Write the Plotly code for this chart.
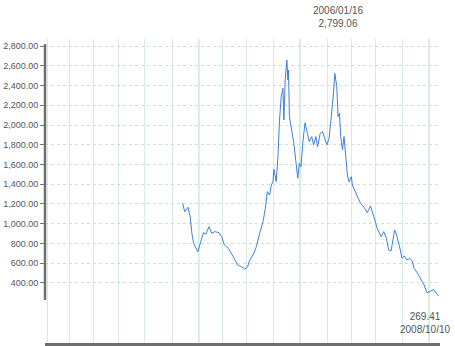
import plotly.graph_objects as go

# position along the time axis (arbitrary units) and index values
t = [138.7, 140.7, 144, 146.3, 148, 149.7, 154, 156.3, 159.7, 162, 165.3, 168, 171.3, 175.3,
     178, 180.7, 184.7, 189.7, 194, 198, 201.3, 204, 206.3, 209.7, 213, 216.3, 219.7, 222,
     224, 226.3, 228, 229.7, 230.7, 233, 234.7, 236.3, 238, 239.7, 240.7, 242, 243.7, 244.7,
     245.3, 246.3, 248.7, 250.7, 253, 254.7, 256.3, 258, 259.7, 262, 264, 266.3, 268.7, 270.7,
     273, 274.7, 277.3, 279.7, 281.3, 284, 286.3, 288.7, 290.7, 292, 294, 295.3, 296.7, 298,
     299.7, 301.3, 303, 304.7, 306.3, 308.7, 309.7, 312, 315, 318, 321.3, 324.7, 328, 331.3,
     334.7, 338.7, 341.3, 344, 346.3, 348.7, 350.7, 352.3, 354, 356.3, 358, 359.7, 362, 364.7,
     367.3, 369.7, 372, 375.3, 378.7, 382, 384.7, 388, 391.3, 394, 396.3]
values = [1207, 1122, 1167, 1071, 903, 802, 717, 785, 909, 896, 970, 903, 920, 909,
          869, 785, 751, 666, 582, 565, 539, 559, 633, 684, 768, 903, 1021, 1156,
          1325, 1291, 1392, 1426, 1551, 1426, 1679, 2051, 2287, 2372, 2051, 2456, 2658, 2456,
          2557, 2085, 1949, 1815, 1612, 1460, 1612, 1578, 1815, 2023, 1932, 1831, 1882, 1798,
          1882, 1780, 1916, 1932, 1882, 1798, 1865, 2085, 2321, 2524, 2388, 2085, 2119, 1882,
          1747, 1882, 1646, 1494, 1426, 1476, 1392, 1331, 1270, 1207, 1167, 1112, 1180, 1071,
          954, 869, 920, 853, 734, 724, 853, 937, 896, 818, 734, 650, 673, 633,
          650, 626, 549, 498, 430, 380, 302, 312, 336, 302, 270]

y_ticks = [400, 600, 800, 1000, 1200, 1400, 1600, 1800, 2000, 2200, 2400, 2600, 2800]
x_grid = [3, 25, 49, 74, 100, 128, 155, 179, 203, 230, 257, 285, 309, 333, 360, 387]
x_grid_strong = [155, 257, 387]

max_date, max_label = "2006/01/16", "2,799.06"
last_date, last_label = "2008/10/10", "269.41"

fig = go.Figure()
fig.add_trace(go.Scatter(x=t, y=values, mode="lines",
                         line=dict(color="#3f7fd9", width=1), hoverinfo="skip"))

shapes = []
for g in x_grid_strong:
    shapes.append(dict(type="line", xref="x", yref="paper", x0=g, x1=g, y0=0, y1=1,
                       line=dict(color="#b4dfc2", width=1.2), layer="below"))
shapes.append(dict(type="line", xref="paper", yref="y", x0=0, x1=0, y0=228, y1=2820,
                   line=dict(color="#6e6e6e", width=2.5)))

fnt = dict(family="Liberation Sans, Arial, sans-serif", size=10, color="#555555")
annotations = [
    dict(text=max_date + "<br>" + max_label, xref="paper", yref="paper", x=0.741, y=1.074,
         showarrow=False, xanchor="center", yanchor="middle", font=fnt, borderpad=0),
    dict(text=last_label + "<br>" + last_date, xref="paper", yref="paper", x=0.962, y=0.066,
         showarrow=False, xanchor="center", yanchor="middle", font=fnt, borderpad=0),
]

fig.update_layout(
    width=455, height=346,
    margin=dict(l=42, r=15, t=39, b=3),
    paper_bgcolor="white", plot_bgcolor="white",
    showlegend=False,
    shapes=shapes,
    annotations=annotations,
    font=fnt,
    xaxis=dict(range=[0, 398], tickvals=x_grid, showticklabels=False, ticks="",
               showgrid=True, gridcolor="#d6ece2", gridwidth=1,
               showline=True, linecolor="#6e6e6e", linewidth=2.5,
               zeroline=False, fixedrange=True),
    yaxis=dict(range=[-208, 2871], tickvals=y_ticks, tickformat=",.2f",
               ticks="outside", ticklen=4, tickcolor="#777777", tickwidth=1,
               tickfont=dict(family="Liberation Sans, Arial, sans-serif", size=9, color="#555555"),
               showgrid=True, gridcolor="#c9e2d4", gridwidth=1, griddash="3px,3px",
               showline=False, zeroline=False, fixedrange=True),
)

fig.write_html("out.html")
